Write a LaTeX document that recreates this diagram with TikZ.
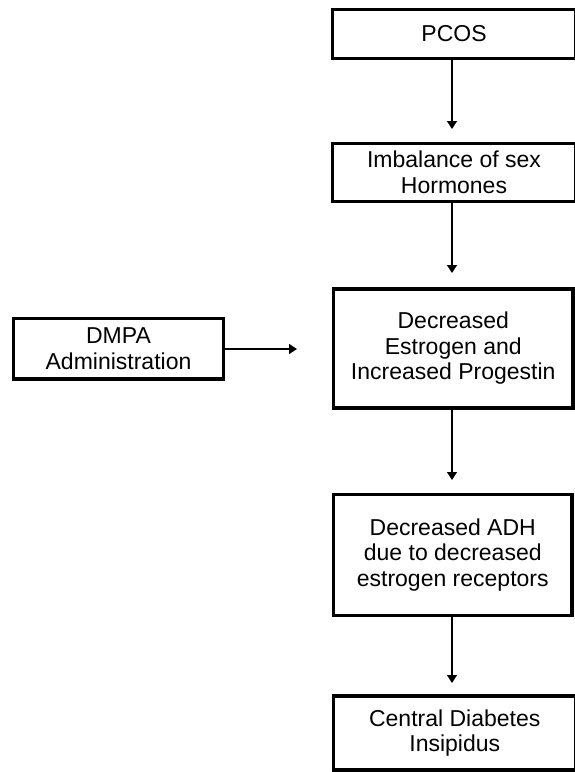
\documentclass[tikz,border=0pt]{standalone}
\usepackage{fontspec}
\setmainfont{Liberation Sans}
\usetikzlibrary{arrows.meta}
\begin{document}
\begin{tikzpicture}[x=1pt,y=1pt,
  box/.style={draw=black, line width=3.4pt, fill=white, align=center, inner sep=0pt,
    font=\fontsize{23}{25.5}\selectfont},
  conn/.style={line width=1.3pt, -{Triangle[length=8pt,width=10pt]}}]
\useasboundingbox (0,0) rectangle (575,-772);
\clip (0,0) rectangle (575,-772);
\node[box, minimum width=243pt, minimum height=49pt] (pcos) at (454,-34) {PCOS};
\node[box, minimum width=243pt, minimum height=58pt] (imb) at (454,-172.5) {Imbalance of sex\\Hormones};
\node[box, minimum width=239.5pt, minimum height=119pt] (est) at (453.25,-348.5) {Decreased\\Estrogen and\\Increased Progestin};
\node[box, minimum width=238.5pt, minimum height=120.5pt] (adh) at (452.75,-555) {Decreased ADH\\due to decreased\\estrogen receptors};
\node[box, minimum width=242.5pt, minimum height=74pt] (cdi) at (454.75,-733) {Central Diabetes\\Insipidus};
\node[box, minimum width=210pt, minimum height=60.5pt] (dmpa) at (118.5,-348.75) {DMPA\\Administration};
\coordinate (t1) at (452,-129);
\coordinate (t2) at (452,-273);
\coordinate (t3) at (452,-480);
\coordinate (t4) at (452,-683);
\coordinate (t5) at (297,-349);
\draw[conn] (pcos.south -| t1) -- (t1);
\draw[conn] (imb.south -| t2) -- (t2);
\draw[conn] (est.south -| t3) -- (t3);
\draw[conn] (adh.south -| t4) -- (t4);
\draw[conn] (dmpa.east |- t5) -- (t5);
\end{tikzpicture}
\end{document}
